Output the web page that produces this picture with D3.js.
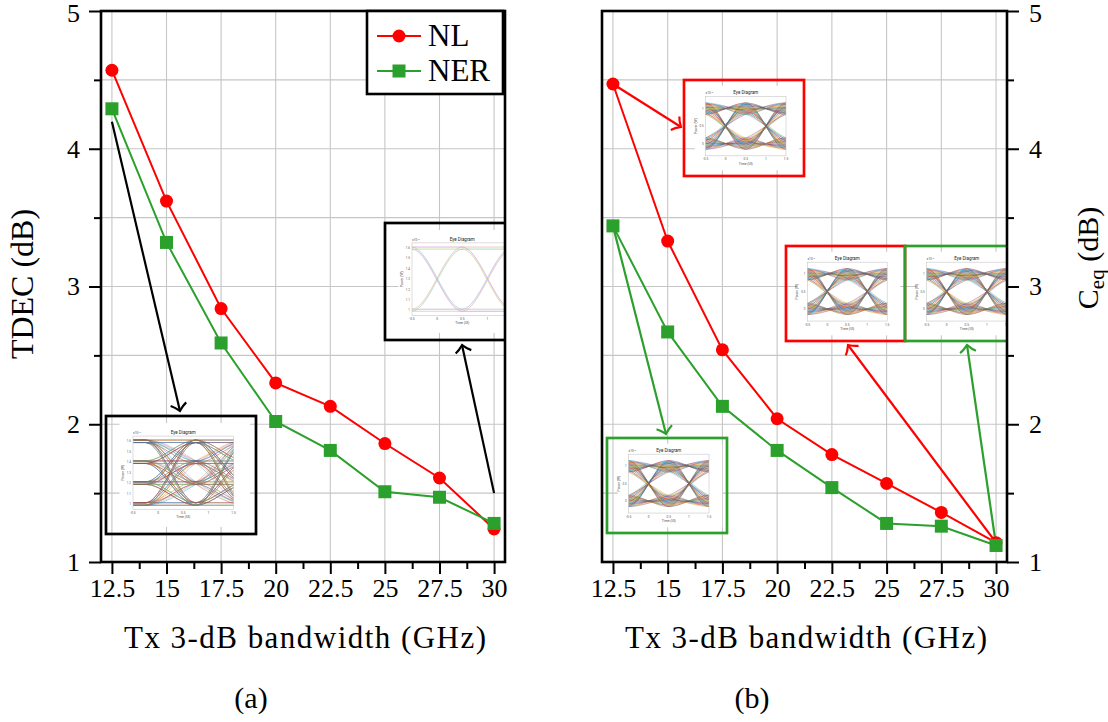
<!DOCTYPE html>
<html>
<head>
<meta charset="utf-8">
<script src="https://cdn.jsdelivr.net/npm/d3@7"></script>
<style>
  body { margin: 0; background: #fff; }
  svg { display: block; }
</style>
</head>
<body>
<script>
// values
const bandwidths = [12.5, 15, 17.5, 20, 22.5, 25, 27.5, 30]
const xMinor = [13.75, 16.25, 18.75, 21.25, 23.75, 26.25, 28.75]
const yTicks = [1, 2, 3, 4, 5]
const yMinor = [1.5, 2.5, 3.5, 4.5]
const seriesNames = ["NL", "NER"]

const tdecNL  = [4.57, 3.62, 2.84, 2.30, 2.13, 1.86, 1.61, 1.24]
const tdecNER = [4.29, 3.32, 2.59, 2.02, 1.81, 1.51, 1.47, 1.28]
const ceqNL   = [4.47, 3.33, 2.54, 2.04, 1.78, 1.57, 1.36, 1.14]
const ceqNER  = [3.44, 2.67, 2.13, 1.81, 1.54, 1.28, 1.26, 1.12]

const xTitle = "Tx 3-dB bandwidth (GHz)"

// pick the first serif face that is really installed
function pickSerif(list) {
    const ctx = document.createElement("canvas").getContext("2d")
    const sample = "TDEC (dB) Tx 3-dB bandwidth NL NER"
    ctx.font = "30px monospace"
    const base = ctx.measureText(sample).width
    for (const f of list) {
        ctx.font = `30px "${f}", monospace`
        if (Math.abs(ctx.measureText(sample).width - base) > 0.5) return `"${f}", serif`
    }
    return "serif"
}
const SERIF = pickSerif(["Liberation Serif", "Times New Roman", "Nimbus Roman", "DejaVu Serif", "Noto Serif", "FreeSerif"])
const SANS = 'Roboto, "Liberation Sans", sans-serif'
const RED = "#ff0000", GREEN = "#2ca02c"
const matlabColors = ["#0072BD", "#D95319", "#EDB120", "#7E2F8E", "#77AC30", "#4DBEEE", "#A2142F"]
const pastel = ["#e9a3c9", "#9fd3ee", "#eedf8c", "#c7a3dc", "#a9d7a0"]
const TOP = 11, BOTTOM = 562

const svg = d3.select("body").append("svg")
    .attr("width", 1108)
    .attr("height", 722)
    .attr("font-family", SERIF)
    .style("font-family", SERIF)

const defs = svg.append("defs")
;[["black", "#000"], ["red", RED], ["green", GREEN]].forEach(([k, c]) => {
    defs.append("marker")
        .attr("id", "head-" + k)
        .attr("viewBox", "-10 -10 12 20")
        .attr("refX", 0).attr("refY", 0)
        .attr("markerWidth", 12).attr("markerHeight", 20)
        .attr("markerUnits", "userSpaceOnUse")
        .attr("orient", "auto")
        .append("path")
        .attr("d", "M-7,-8 C-4,-3 -1,-1 0,0 C-1,1 -4,3 -7,8")
        .attr("fill", "none")
        .attr("stroke", c)
        .attr("stroke-width", 2.2)
})

let eyeCount = 0
// small eye-diagram picture used as an inset
function drawEye(parent, b, cfg) {
    const g = parent.append("g")
    const id = "eyeclip" + (eyeCount++)
    const px0 = b.x + 0.18 * b.w, px1 = b.x + 0.85 * b.w
    const py0 = b.y + 0.17 * b.h, py1 = b.y + 0.79 * b.h

    g.append("rect")
        .attr("x", b.x + 0.09 * b.w).attr("y", b.y + 0.06 * b.h)
        .attr("width", 0.87 * b.w).attr("height", 0.88 * b.h)
        .attr("fill", "#fff")

    const ex = d3.scaleLinear().domain([-0.5, 1.5]).range([px0, px1])
    const ey = d3.scaleLinear().domain(cfg.domain).range([py1, py0])
    defs.append("clipPath").attr("id", id)
        .append("rect").attr("x", px0).attr("y", py0)
        .attr("width", px1 - px0).attr("height", py1 - py0)

    const times = [-1.5, -0.5, 0.5, 1.5, 2.5].map(t => t + cfg.shift)
    const traces = []
    const n = cfg.levels.length
    for (let a = 0; a < n; a++)
        for (let m = 0; m < n; m++)
            for (let c = 0; c < n; c++) {
                const pattern = [a, a, m, c, c]
                cfg.offsets.forEach(o => {
                    traces.push(pattern.map((li, i) =>
                        [times[i], cfg.levels[li] + (cfg.alternate && i % 2 ? -o : o)]))
                })
            }

    const eyeLine = d3.line()
        .x(d => ex(d[0]))
        .y(d => ey(d[1]))
        .curve(d3.curveMonotoneX)

    g.append("g").attr("clip-path", `url(#${id})`)
        .selectAll("path")
        .data(traces)
        .join("path")
        .attr("d", eyeLine)
        .attr("fill", "none")
        .attr("stroke", (d, i) => cfg.colors[i % cfg.colors.length])
        .attr("stroke-width", cfg.lw)
        .attr("stroke-opacity", cfg.op)

    g.append("rect")
        .attr("x", px0).attr("y", py0)
        .attr("width", px1 - px0).attr("height", py1 - py0)
        .attr("fill", "none").attr("stroke", "#bbb").attr("stroke-width", 0.5)

    const small = (sel, size, fill) => sel.attr("font-size", size).attr("fill", fill)
        .attr("font-family", SANS).style("font-family", SANS)

    small(g.append("text").attr("x", (px0 + px1) / 2).attr("y", py0 - 2)
        .attr("text-anchor", "middle"), 4.5, "#222")
        .text("Eye Diagram")
    small(g.append("text").attr("x", px0).attr("y", py0 - 2), 3.2, "#555")
        .text("×10⁻³")
    small(g.selectAll(".xt").data(["-0.5", "0", "0.5", "1", "1.5"]).join("text")
        .attr("x", (d, i) => ex(-0.5 + i * 0.5)).attr("y", py1 + 4.5)
        .attr("text-anchor", "middle"), 3.2, "#555")
        .text(d => d)
    small(g.selectAll(".yt").data(cfg.yLabels).join("text")
        .attr("x", px0 - 2).attr("y", d => ey(+d) + 1)
        .attr("text-anchor", "end"), 3, "#555")
        .text(d => d)
    small(g.append("text").attr("x", (px0 + px1) / 2).attr("y", py1 + 9)
        .attr("text-anchor", "middle"), 3.4, "#444")
        .text("Time (UI)")
    small(g.append("text")
        .attr("transform", `translate(${px0 - 9},${(py0 + py1) / 2}) rotate(-90)`)
        .attr("text-anchor", "middle"), 3.4, "#444")
        .text("Power (W)")

    g.append("rect")
        .attr("x", b.x).attr("y", b.y).attr("width", b.w).attr("height", b.h)
        .attr("fill", "none").attr("stroke", b.stroke).attr("stroke-width", 2.7)
}

const pam4Eye = { levels: [1.0, 1.2, 1.4, 1.6], domain: [0.95, 1.65], shift: 0.25,
    offsets: [-0.012, 0.012], alternate: false, colors: matlabColors, lw: 0.5, op: 0.6,
    yLabels: ["1", "1.1", "1.2", "1.3", "1.4", "1.5", "1.6"] }
const slowEye = { levels: [1.0, 1.6], domain: [0.95, 1.65], shift: 0,
    offsets: [-0.01, 0.01], alternate: false, colors: pastel, lw: 0.6, op: 0.8,
    yLabels: ["1", "1.1", "1.2", "1.3", "1.4", "1.5", "1.6"] }
const nrzEye = { levels: [0, 1], domain: [-0.35, 1.35], shift: 0,
    offsets: [-0.16, -0.12, -0.08, -0.04, 0, 0.04, 0.08, 0.12, 0.16], alternate: true,
    colors: matlabColors, lw: 0.5, op: 0.75,
    yLabels: ["0", "0.5", "1"] }

function drawPanel(x0, x1, nl, ner, opts) {
    const x = d3.scaleLinear().domain([12, 30.5]).range([x0, x1])
    const y = d3.scaleLinear().domain([1, 5]).range([BOTTOM, TOP])
    const g = svg.append("g")
    const clipId = "clip-" + opts.name
    defs.append("clipPath").attr("id", clipId)
        .append("rect").attr("x", x0).attr("y", TOP)
        .attr("width", x1 - x0).attr("height", BOTTOM - TOP)

    // grid
    g.append("g").selectAll("line").data(bandwidths).join("line")
        .attr("x1", d => x(d)).attr("x2", d => x(d))
        .attr("y1", TOP).attr("y2", BOTTOM)
        .attr("stroke", "#c6c6c6").attr("stroke-width", 1.1)
    g.append("g").selectAll("line").data(yTicks.concat(yMinor)).join("line")
        .attr("x1", x0).attr("x2", x1)
        .attr("y1", d => y(d)).attr("y2", d => y(d))
        .attr("stroke", "#c6c6c6").attr("stroke-width", 1.1)

    // insets
    const inner = g.append("g").attr("clip-path", `url(#${clipId})`)
    opts.insets.forEach(ins => drawEye(inner, ins.box, ins.eye))

    // arrows
    opts.arrows(x, y).forEach(a => {
        g.append("line")
            .attr("x1", a.from[0]).attr("y1", a.from[1])
            .attr("x2", a.to[0]).attr("y2", a.to[1])
            .attr("stroke", a.color === "black" ? "#000" : a.color === "red" ? RED : GREEN)
            .attr("stroke-width", 2.2)
            .attr("marker-end", `url(#head-${a.color})`)
    })

    // series
    const line = d3.line().x(d => x(d[0])).y(d => y(d[1]))
    const nlPts = bandwidths.map((b, i) => [b, nl[i]])
    const nerPts = bandwidths.map((b, i) => [b, ner[i]])
    g.append("path").datum(nlPts).attr("d", line)
        .attr("fill", "none").attr("stroke", RED).attr("stroke-width", 2)
    g.append("path").datum(nerPts).attr("d", line)
        .attr("fill", "none").attr("stroke", GREEN).attr("stroke-width", 2)
    g.append("g").selectAll("circle").data(nlPts).join("circle")
        .attr("cx", d => x(d[0])).attr("cy", d => y(d[1])).attr("r", 6.5)
        .attr("fill", RED)
    g.append("g").selectAll("rect").data(nerPts).join("rect")
        .attr("x", d => x(d[0]) - 6.5).attr("y", d => y(d[1]) - 6.5)
        .attr("width", 13).attr("height", 13)
        .attr("fill", GREEN)

    // x axis
    const xMajor = d3.axisBottom(x).tickValues(bandwidths).tickSize(12).tickPadding(5)
        .tickFormat(d3.format("~g"))
    const xMin = d3.axisBottom(x).tickValues(xMinor).tickSize(7).tickFormat("")
    const gx = g.append("g").attr("transform", `translate(0,${BOTTOM})`).call(xMajor)
    g.append("g").attr("transform", `translate(0,${BOTTOM})`).call(xMin)
        .call(s => s.select(".domain").remove())
        .selectAll("line").attr("stroke-width", 2)
    gx.attr("font-family", SERIF)
    gx.select(".domain").remove()
    gx.selectAll("line").attr("stroke-width", 2)
    gx.selectAll("text").attr("font-size", 26).attr("fill", "#000")

    // y axis
    const side = opts.yRight
    const yMajorAxis = (side ? d3.axisRight(y) : d3.axisLeft(y))
        .tickValues(yTicks).tickSize(12).tickPadding(side ? 10 : 9)
        .tickFormat(d3.format("d"))
    const yMinorAxis = (side ? d3.axisRight(y) : d3.axisLeft(y))
        .tickValues(yMinor).tickSize(7).tickFormat("")
    const ax = side ? x1 : x0
    const gy = g.append("g").attr("transform", `translate(${ax},0)`).call(yMajorAxis)
    g.append("g").attr("transform", `translate(${ax},0)`).call(yMinorAxis)
        .call(s => s.select(".domain").remove())
        .selectAll("line").attr("stroke-width", 2)
    gy.attr("font-family", SERIF)
    gy.select(".domain").remove()
    gy.selectAll("line").attr("stroke-width", 2)
    gy.selectAll("text").attr("font-size", 26).attr("fill", "#000")
        .attr("dy", d => d === 5 ? "0.42em" : "0.32em")

    // frame
    g.append("rect")
        .attr("x", x0).attr("y", TOP).attr("width", x1 - x0).attr("height", BOTTOM - TOP)
        .attr("fill", "none").attr("stroke", "#000").attr("stroke-width", 2.6)

    // x title
    g.append("text")
        .attr("x", opts.titleX).attr("y", 648)
        .attr("text-anchor", "middle")
        .attr("font-size", 31)
        .attr("textLength", 362).attr("lengthAdjust", "spacing")
        .text(xTitle)

    // sub caption
    g.append("text")
        .attr("x", opts.capX).attr("y", 708)
        .attr("text-anchor", "middle")
        .attr("font-size", 30)
        .text(opts.caption)

    return { x, y, g }
}

// panel (a)
const pa = drawPanel(101, 505, tdecNL, tdecNER, {
    name: "a", titleX: 305, capX: 251, caption: "(a)", yRight: false,
    insets: [
        { box: { x: 106, y: 416, w: 150, h: 118, stroke: "#000" }, eye: pam4Eye },
        { box: { x: 385, y: 223, w: 150, h: 117, stroke: "#000" }, eye: slowEye }
    ],
    arrows: (x, y) => [
        { from: [x(12.5), y(tdecNER[0]) + 13], to: [180, 411], color: "black" },
        { from: [x(30), y(1.5)], to: [462, 345], color: "black" }
    ]
})

// y title (a)
svg.append("text")
    .attr("transform", "translate(33,284) rotate(-90)")
    .attr("text-anchor", "middle")
    .attr("font-size", 32)
    .text("TDEC (dB)")

// legend
const leg = pa.g.append("g")
leg.append("rect")
    .attr("x", 367).attr("y", TOP).attr("width", 136).attr("height", 83)
    .attr("fill", "#fff").attr("stroke", "#000").attr("stroke-width", 2.6)
seriesNames.forEach((name, i) => {
    const ly = 36 + i * 35
    const col = i === 0 ? RED : GREEN
    leg.append("line").attr("x1", 377).attr("x2", 421).attr("y1", ly).attr("y2", ly)
        .attr("stroke", col).attr("stroke-width", 2)
    if (i === 0) {
        leg.append("circle").attr("cx", 399).attr("cy", ly).attr("r", 6.5).attr("fill", col)
    } else {
        leg.append("rect").attr("x", 392.5).attr("y", ly - 6.5).attr("width", 13).attr("height", 13)
            .attr("fill", col)
    }
    leg.append("text").attr("x", 428).attr("y", ly + 10)
        .attr("font-size", 31).text(name)
})

// panel (b)
drawPanel(602, 1007, ceqNL, ceqNER, {
    name: "b", titleX: 806, capX: 752, caption: "(b)", yRight: true,
    insets: [
        { box: { x: 684, y: 80, w: 120, h: 96, stroke: RED }, eye: nrzEye },
        { box: { x: 786, y: 246, w: 119, h: 95, stroke: RED }, eye: nrzEye },
        { box: { x: 905, y: 246, w: 120, h: 95, stroke: GREEN }, eye: nrzEye },
        { box: { x: 607, y: 438, w: 120, h: 95, stroke: GREEN }, eye: nrzEye }
    ],
    arrows: (x, y) => [
        { from: [x(12.5), y(ceqNL[0])], to: [681, 127], color: "red" },
        { from: [x(12.5), y(ceqNER[0])], to: [666, 434], color: "green" },
        { from: [x(30), y(ceqNL[7])], to: [848, 345], color: "red" },
        { from: [x(30), y(ceqNER[7])], to: [967, 345], color: "green" }
    ]
})

// y title (b), on the right
const ceq = svg.append("text")
    .attr("transform", "translate(1098,258) rotate(-90)")
    .attr("text-anchor", "middle")
    .attr("font-size", 30)
ceq.append("tspan").text("C")
ceq.append("tspan").attr("font-size", 21).attr("dy", 6).text("eq")
ceq.append("tspan").attr("dy", -6).text(" (dB)")
</script>
</body>
</html>
